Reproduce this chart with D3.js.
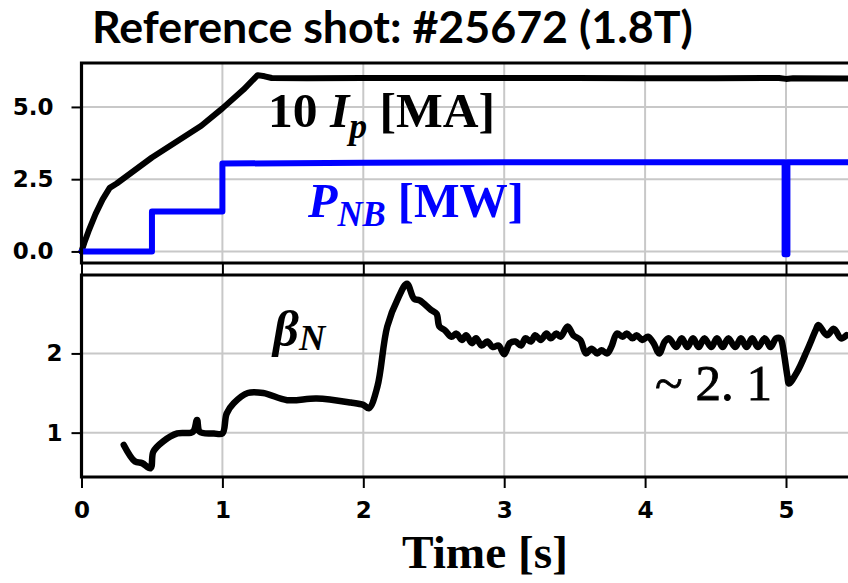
<!DOCTYPE html>
<html><head><meta charset="utf-8">
<script src="https://cdn.jsdelivr.net/npm/d3@7"></script>
<style>html,body{margin:0;padding:0;background:#fff;}svg{display:block;}</style>
</head><body>
<svg id="c" width="848" height="583"></svg>
<script>
// ---- data ----
const titleText = "Reference shot: #25672 (1.8T)";
const xTicks = [0, 1, 2, 3, 4, 5];
const topYTicks = [0.0, 2.5, 5.0];
const botYTicks = [1, 2];

// 10 * Ip [MA]
const ipT = [0, 0.02, 0.05, 0.1, 0.15, 0.2, 0.25, 0.5, 0.85, 1.0, 1.15, 1.25, 1.3, 1.35, 1.6, 2.0, 2.5, 3.0, 3.5, 4.0, 4.5, 4.95, 5.0, 5.05, 5.44];
const ipV = [0, 0.3, 0.7, 1.3, 1.8, 2.2, 2.35, 3.25, 4.35, 4.95, 5.6, 6.1, 6.06, 6.0, 5.99, 6.0, 6.0, 6.0, 6.0, 5.99, 5.99, 6.0, 5.97, 5.99, 5.98];

// P_NB [MW]
const pnbT = [0, 0.5, 0.5, 1.0, 1.0, 2.0, 3.0, 4.99, 4.99, 5.01, 5.01, 5.44];
const pnbV = [0, 0, 1.38, 1.38, 3.04, 3.07, 3.09, 3.09, -0.1, -0.1, 3.09, 3.09];

// beta_N
const betaT = [0.30, 0.38, 0.43, 0.49, 0.51, 0.58, 0.68, 0.79, 0.82, 0.84, 0.94, 1.0, 1.03, 1.08, 1.18, 1.29, 1.46, 1.67, 1.91, 2.0, 2.04, 2.10, 2.17, 2.25, 2.31, 2.36, 2.40, 2.48, 2.52, 2.54, 2.58,
  2.625, 2.66, 2.70, 2.73, 2.77, 2.80, 2.84, 2.88, 2.92, 2.96, 3.0, 3.04, 3.08, 3.12, 3.15, 3.19, 3.22, 3.26, 3.30, 3.33, 3.37, 3.40, 3.45, 3.49, 3.54, 3.58, 3.62, 3.66, 3.69, 3.73, 3.76, 3.80, 3.84, 3.87, 3.91, 3.94, 3.98, 4.02, 4.06, 4.10, 4.14,
  4.17, 4.22, 4.26, 4.30, 4.34, 4.38, 4.42, 4.47, 4.51, 4.55, 4.59, 4.64, 4.68, 4.72, 4.76, 4.80, 4.85, 4.89, 4.93, 4.96, 4.97, 5.01, 5.02, 5.08, 5.15, 5.21, 5.23, 5.29, 5.34, 5.39, 5.43];
const betaV = [0.845, 0.635, 0.615, 0.55, 0.76, 0.89, 0.99, 1.01, 1.16, 1.01, 0.99, 0.99, 1.24, 1.37, 1.50, 1.50, 1.41, 1.43, 1.38, 1.35, 1.31, 1.58, 2.34, 2.71, 2.88, 2.69, 2.67, 2.55, 2.50, 2.34, 2.29,
  2.21, 2.25, 2.17, 2.23, 2.13, 2.19, 2.10, 2.15, 2.08, 2.10, 1.99, 2.13, 2.15, 2.10, 2.19, 2.15, 2.23, 2.17, 2.25, 2.19, 2.25, 2.21, 2.34, 2.23, 2.17, 2.00, 2.06, 2.00, 2.04, 2.00, 2.08, 2.25, 2.21, 2.25, 2.19, 2.23, 2.17, 2.21, 2.13, 2.00, 2.15,
  2.19, 2.08, 2.19, 2.08, 2.19, 2.08, 2.19, 2.08, 2.19, 2.08, 2.19, 2.08, 2.19, 2.08, 2.19, 2.08, 2.19, 2.08, 2.19, 2.19, 2.15, 1.71, 1.62, 1.77, 2.04, 2.29, 2.36, 2.23, 2.31, 2.19, 2.23];

// ---- drawing ----
const svg = d3.select("#c");
const W = 848;
const x = d3.scaleLinear().domain([0, 5.44]).range([81.5, 848]);
const yTop = d3.scaleLinear().domain([-0.4, 6.52]).range([263, 63]);
const yBot = d3.scaleLinear().domain([0.44, 2.99]).range([477, 275]);

const gridColor = "#c8c8c8";
function panel(y, yTicks, top, bottom) {
  const g = svg.append("g");
  g.selectAll(".vg").data(xTicks).join("line")
    .attr("x1", d => x(d)).attr("x2", d => x(d))
    .attr("y1", top).attr("y2", bottom)
    .attr("stroke", gridColor).attr("stroke-width", 2);
  g.selectAll(".hg").data(yTicks).join("line")
    .attr("x1", x(0)).attr("x2", W + 5)
    .attr("y1", d => y(d)).attr("y2", d => y(d))
    .attr("stroke", gridColor).attr("stroke-width", 2);
  return g;
}
panel(yTop, topYTicks, 63, 263);
panel(yBot, botYTicks, 275, 477);

// lines
const lineTop = d3.line().x(d => x(d[0])).y(d => yTop(d[1]));
const lineBot = d3.line().x(d => x(d[0])).y(d => yBot(d[1])).curve(d3.curveCatmullRom.alpha(0.5));
svg.append("path").datum(d3.zip(ipT, ipV)).attr("d", lineTop)
  .attr("fill", "none").attr("stroke", "#000").attr("stroke-width", 6)
  .attr("stroke-linejoin", "round").attr("stroke-linecap", "round");
svg.append("path").datum(d3.zip(pnbT, pnbV)).attr("d", lineTop)
  .attr("fill", "none").attr("stroke", "#0000ff").attr("stroke-width", 6)
  .attr("stroke-linejoin", "round").attr("stroke-linecap", "round");
svg.append("path").datum(d3.zip(betaT, betaV)).attr("d", lineBot)
  .attr("fill", "none").attr("stroke", "#000").attr("stroke-width", 6.5)
  .attr("stroke-linejoin", "round").attr("stroke-linecap", "round");

// frames
function frame(top, bottom) {
  svg.append("path")
    .attr("d", `M${W + 5},${top}H${x(0)}V${bottom}H${W + 5}`)
    .attr("fill", "none").attr("stroke", "#000").attr("stroke-width", 3.2);
}
frame(63, 263);
frame(275, 477);

// axes (ticks + labels)
function styleAxis(g) {
  g.attr("font-size", null).attr("font-family", null);
  g.select(".domain").remove();
  g.selectAll(".tick line").attr("stroke", "#000").attr("stroke-width", 2);
  g.selectAll(".tick text")
    .style("font-family", "'DejaVu Sans', Verdana, sans-serif")
    .style("font-weight", "bold")
    .style("font-size", "23px")
    .attr("fill", "#000");
}
const ayTop = svg.append("g").attr("transform", `translate(${x(0)},0)`)
  .call(d3.axisLeft(yTop).tickValues(topYTicks).tickFormat(d3.format(".1f")).tickSize(10).tickPadding(18));
styleAxis(ayTop);
const ayBot = svg.append("g").attr("transform", `translate(${x(0)},0)`)
  .call(d3.axisLeft(yBot).tickValues(botYTicks).tickFormat(d3.format("d")).tickSize(10).tickPadding(9));
styleAxis(ayBot);
const axTop = svg.append("g").attr("transform", `translate(0,263)`)
  .call(d3.axisBottom(x).tickValues(xTicks).tickFormat("").tickSize(11));
styleAxis(axTop);
const axBot = svg.append("g").attr("transform", `translate(0,477)`)
  .call(d3.axisBottom(x).tickValues(xTicks).tickFormat(d3.format("d")).tickSize(11).tickPadding(14));
styleAxis(axBot);

// text helper: fit text to target width
function fit(sel, x0, x1) {
  const w = sel.node().getBBox().width;
  const fs = parseFloat(sel.attr("font-size"));
  sel.attr("font-size", fs * (x1 - x0) / w);
}

// title
const title = svg.append("text").attr("x", 92).attr("y", 43)
  .attr("font-family", "Lato, 'Open Sans', sans-serif").attr("font-weight", 700)
  .attr("font-size", 40).attr("fill", "#000").text(titleText);
fit(title, 92, 693);

const serif = "'Liberation Serif', 'DejaVu Serif', serif";
// 10 Ip [MA]
const tIp = svg.append("text").attr("x", 268).attr("y", 127)
  .attr("font-family", serif).attr("font-weight", "bold").attr("font-size", 42).attr("fill", "#000");
tIp.append("tspan").text("10 ");
tIp.append("tspan").attr("font-style", "italic").text("I");
tIp.append("tspan").attr("font-style", "italic").attr("font-size", "0.72em").attr("dy", "0.3em").text("p");
tIp.append("tspan").attr("dy", "-0.22em").text(" [MA]");
fit(tIp, 268, 495);

// P_NB [MW]
const tP = svg.append("text").attr("x", 308).attr("y", 217)
  .attr("font-family", serif).attr("font-weight", "bold").attr("font-size", 42).attr("fill", "#0000ff");
tP.append("tspan").attr("font-style", "italic").text("P");
tP.append("tspan").attr("font-style", "italic").attr("font-size", "0.72em").attr("dy", "0.25em").text("NB");
tP.append("tspan").attr("dy", "-0.18em").text(" [MW]");
fit(tP, 308, 525);

// beta_N
const tB = svg.append("text").attr("x", 273).attr("y", 346)
  .attr("font-family", serif).attr("font-weight", "bold").attr("font-size", 42).attr("fill", "#000");
tB.append("tspan").attr("font-style", "italic").text("β");
tB.append("tspan").attr("font-style", "italic").attr("font-size", "0.72em").attr("dy", "0.1em").text("N");
fit(tB, 273, 329);

// ~ 2.1
const tA = svg.append("text").attr("x", 655).attr("y", 400)
  .attr("font-family", serif).attr("font-size", 42).attr("fill", "#000")
  .attr("stroke", "#000").attr("stroke-width", 0.8).text("~ 2. 1");
fit(tA, 655, 772);

// x label
const tX = svg.append("text").attr("x", 402).attr("y", 568)
  .attr("font-family", serif).attr("font-weight", "bold").attr("font-size", 40).attr("fill", "#000").text("Time [s]");
fit(tX, 402, 568);
</script>
</body></html>
